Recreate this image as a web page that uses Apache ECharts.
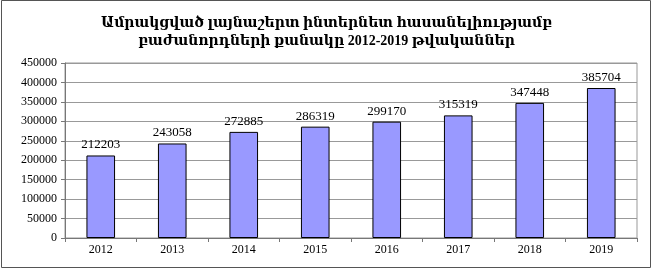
<!DOCTYPE html>
<html><head><meta charset="utf-8">
<script src="https://cdn.jsdelivr.net/npm/echarts@6/dist/echarts.min.js"></script>
<style>html,body{margin:0;padding:0;background:#fff}#c{width:653px;height:271px}</style>
</head><body><div id="c"></div>
<script>
const titleLines = ['Ամրակցված լայնաշերտ ինտերնետ հասանելիությամբ', 'բաժանորդների քանակը 2012-2019 թվականներ'];
const years = ['2012','2013','2014','2015','2016','2017','2018','2019'];
const subscribers = [212203, 243058, 272885, 286319, 299170, 315319, 347448, 385704];
const yMin = 0, yMax = 450000, yStep = 50000;

const serif = '"Liberation Serif", "DejaVu Serif", serif';
const chart = echarts.init(document.getElementById('c'));
chart.setOption({
  animation: false,
  title: {
    text: titleLines.join('\n'),
    left: 'center', top: 9,
    textStyle: { fontFamily: serif, fontSize: 14, fontWeight: 'bold', color: '#000', lineHeight: 18 }
  },
  graphic: [{
    type: 'rect', shape: { x: 1.5, y: 0.5, width: 649, height: 267 },
    style: { fill: null, stroke: '#555', lineWidth: 1 }, silent: true
  }],
  grid: { left: 65, right: 16, top: 63, bottom: 33, show: true, borderColor: '#999', borderWidth: 1 },
  xAxis: {
    type: 'category', data: years,
    axisLine: { lineStyle: { color: '#777' } },
    axisTick: { show: true, inside: false, length: 4, lineStyle: { color: '#777' } },
    axisLabel: { fontFamily: serif, fontSize: 12, color: '#000', margin: 6 }
  },
  yAxis: {
    type: 'value', min: yMin, max: yMax, interval: yStep,
    axisLine: { show: true, lineStyle: { color: '#777' } },
    axisTick: { show: true, length: 4, lineStyle: { color: '#777' } },
    splitLine: { lineStyle: { color: '#999' } },
    axisLabel: { fontFamily: serif, fontSize: 12, color: '#000', margin: 8, formatter: v => String(v) }
  },
  series: [{
    type: 'bar', data: subscribers, barWidth: '40%',
    itemStyle: { color: '#9999FF', borderColor: '#000', borderWidth: 1 },
    label: { show: true, position: 'top', distance: 4, fontFamily: serif, fontSize: 13, color: '#000', formatter: p => String(p.value) }
  }]
});
</script></body></html>
